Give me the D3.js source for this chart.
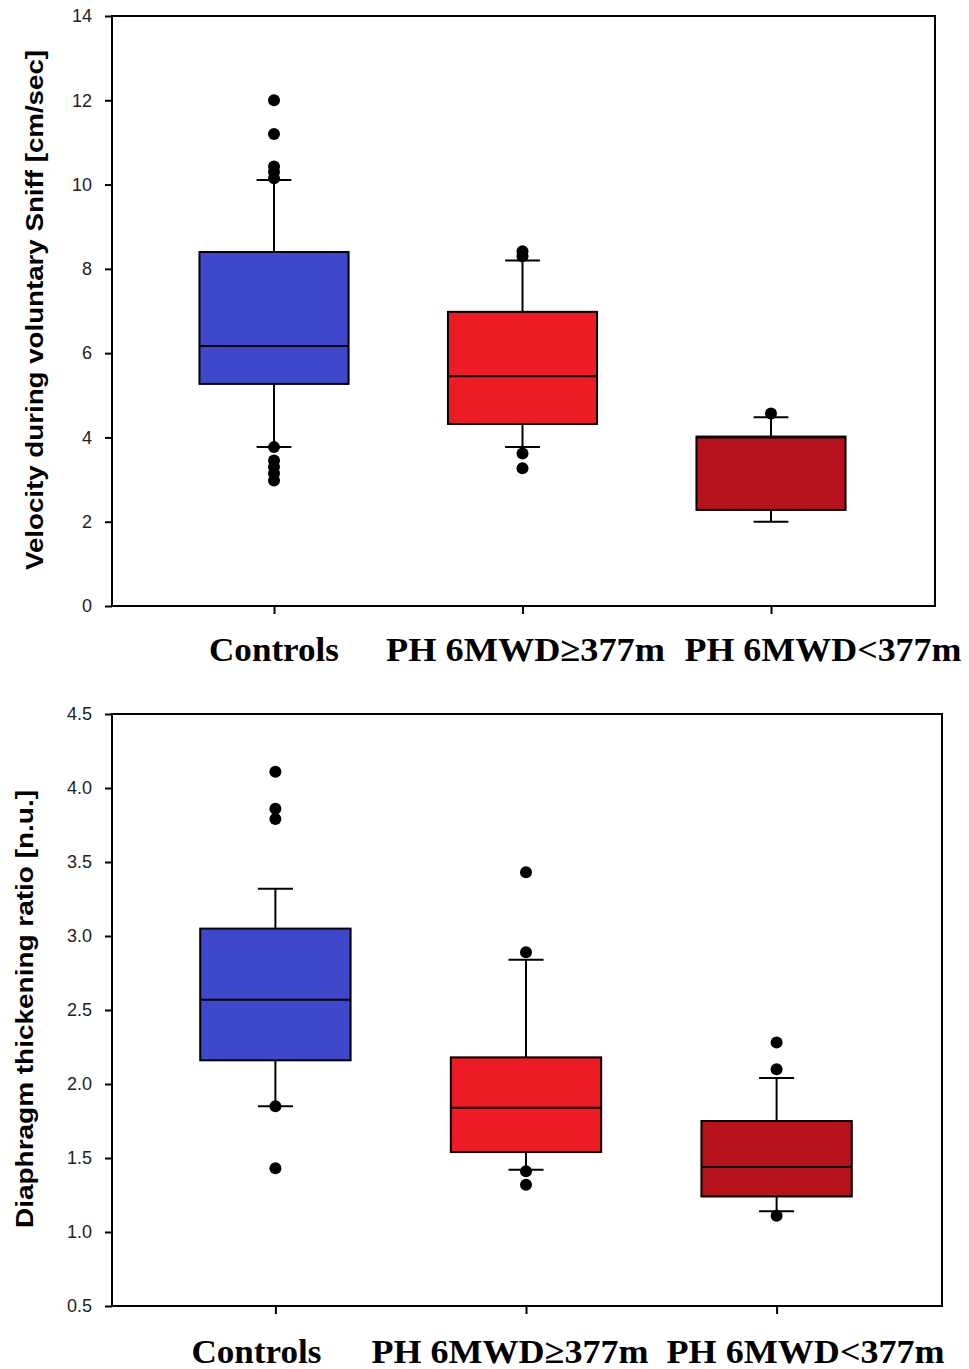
<!DOCTYPE html>
<html>
<head>
<meta charset="utf-8">
<script src="https://cdn.jsdelivr.net/npm/d3@7"></script>
<style>
  body { margin: 0; background: #fff; }
  .tick text { font-family: "Liberation Sans", Arial, sans-serif; font-size: 18px; fill: #222; }
  .cat { font-family: "Liberation Serif", "Times New Roman", serif; font-weight: bold; font-size: 34px; }
  .ytitle { font-family: "Liberation Sans", Arial, sans-serif; font-weight: bold; font-size: 24px; }
</style>
</head>
<body>
<div id="chart"></div>
<script>
// groups on the x axis
var groups = ["Controls", "PH 6MWD\u2265377m", "PH 6MWD<377m"];
var groupColors = ["#3f48cc", "#ed1c24", "#b5121b"];

// sniff velocity (top panel)
var sniffLow    = [3.77, 3.77, 2.00];
var sniffQ1     = [5.27, 4.32, 2.28];
var sniffMedian = [6.17, 5.45, 4.00];
var sniffQ3     = [8.40, 6.98, 4.02];
var sniffHigh   = [10.11, 8.20, 4.48];
var sniffOutliers = [
  [12.0, 11.2, 10.43, 10.3, 10.15, 3.77, 3.45, 3.3, 3.15, 2.98],
  [8.42, 8.3, 3.62, 3.27],
  [4.57]
];
var sniffTicks = [0, 2, 4, 6, 8, 10, 12, 14];

// diaphragm thickening ratio (bottom panel)
var dtrLow    = [1.85, 1.42, 1.14];
var dtrQ1     = [2.16, 1.54, 1.24];
var dtrMedian = [2.57, 1.84, 1.44];
var dtrQ3     = [3.05, 2.18, 1.75];
var dtrHigh   = [3.32, 2.84, 2.04];
var dtrOutliers = [
  [4.11, 3.86, 3.79, 1.85, 1.43],
  [3.43, 2.89, 1.41, 1.32],
  [2.28, 2.10, 1.11]
];
var dtrTicks = [0.5, 1.0, 1.5, 2.0, 2.5, 3.0, 3.5, 4.0, 4.5];

var svg = d3.select("#chart").append("svg")
    .attr("width", 969)
    .attr("height", 1369);

function panel(opt) {
  var x = d3.scaleLinear().domain([0.348, 3.66]).range([opt.left, opt.right]);
  var y = d3.scaleLinear().domain(opt.domain).range([opt.bottom, opt.top]);
  var g = svg.append("g");
  var halfBox = (x(0.3) - x(0));
  var halfCap = (x(0.07) - x(0));

  var rows = groups.map(function(name, i) {
    return {i: i + 1, name: name, color: groupColors[i],
      lo: opt.low[i], q1: opt.q1[i], med: opt.median[i], q3: opt.q3[i], hi: opt.high[i],
      out: opt.outliers[i]};
  });

  var box = g.selectAll(".box").data(rows).enter().append("g");

  // whiskers
  box.append("line")
      .attr("x1", function(d) { return x(d.i); })
      .attr("x2", function(d) { return x(d.i); })
      .attr("y1", function(d) { return y(d.q3); })
      .attr("y2", function(d) { return y(d.hi); })
      .attr("stroke", "#000").attr("stroke-width", 2);
  box.append("line")
      .attr("x1", function(d) { return x(d.i); })
      .attr("x2", function(d) { return x(d.i); })
      .attr("y1", function(d) { return y(d.q1); })
      .attr("y2", function(d) { return y(d.lo); })
      .attr("stroke", "#000").attr("stroke-width", 2);
  ["hi", "lo"].forEach(function(k) {
    box.append("line")
        .attr("x1", function(d) { return x(d.i) - halfCap; })
        .attr("x2", function(d) { return x(d.i) + halfCap; })
        .attr("y1", function(d) { return y(d[k]); })
        .attr("y2", function(d) { return y(d[k]); })
        .attr("stroke", "#000").attr("stroke-width", 2);
  });

  // boxes
  box.append("rect")
      .attr("x", function(d) { return x(d.i) - halfBox; })
      .attr("width", 2 * halfBox)
      .attr("y", function(d) { return y(d.q3); })
      .attr("height", function(d) { return y(d.q1) - y(d.q3); })
      .attr("fill", function(d) { return d.color; })
      .attr("stroke", "#000").attr("stroke-width", 2);
  box.append("line")
      .attr("x1", function(d) { return x(d.i) - halfBox; })
      .attr("x2", function(d) { return x(d.i) + halfBox; })
      .attr("y1", function(d) { return y(d.med); })
      .attr("y2", function(d) { return y(d.med); })
      .attr("stroke", "#000").attr("stroke-width", 2);

  // outliers
  box.selectAll("circle")
      .data(function(d) { return d.out.map(function(v) { return {i: d.i, v: v}; }); })
      .enter().append("circle")
      .attr("cx", function(d) { return x(d.i); })
      .attr("cy", function(d) { return y(d.v); })
      .attr("r", 6)
      .attr("fill", "#000");

  // frame
  g.append("rect")
      .attr("x", opt.left).attr("y", opt.top)
      .attr("width", opt.right - opt.left).attr("height", opt.bottom - opt.top)
      .attr("fill", "none").attr("stroke", "#000").attr("stroke-width", 2);

  // Y Axis
  var ya = g.append("g")
      .attr("transform", "translate(" + opt.left + ",0)")
      .call(d3.axisLeft(y).tickValues(opt.ticks).tickFormat(d3.format(opt.fmt))
        .tickSize(7).tickPadding(13));
  ya.select(".domain").remove();
  ya.selectAll(".tick line").attr("stroke-width", 2);

  // X Axis
  var xa = g.append("g")
      .attr("transform", "translate(0," + opt.bottom + ")")
      .call(d3.axisBottom(x).tickValues([1, 2, 3]).tickFormat("").tickSize(8));
  xa.select(".domain").remove();
  xa.selectAll(".tick line").attr("stroke-width", 2);

  // category labels
  g.selectAll(".cat").data(rows).enter().append("text")
      .attr("class", "cat")
      .attr("x", function(d, i) { return x(d.i) + opt.labelShift[i]; })
      .attr("y", opt.labelY)
      .attr("text-anchor", "middle")
      .attr("textLength", function(d, i) { return opt.labelLen[i]; })
      .attr("lengthAdjust", "spacingAndGlyphs")
      .text(function(d) { return d.name; });

  // y title
  g.append("text")
      .attr("class", "ytitle")
      .attr("transform", "translate(" + opt.titleX + "," + ((opt.top + opt.bottom) / 2 + opt.titleShift) + ") rotate(-90)")
      .attr("text-anchor", "middle")
      .attr("textLength", opt.titleLen)
      .attr("lengthAdjust", "spacingAndGlyphs")
      .text(opt.title);
}

panel({
  left: 112, right: 935, top: 16, bottom: 606,
  domain: [0, 14], ticks: sniffTicks, fmt: "d",
  low: sniffLow, q1: sniffQ1, median: sniffMedian, q3: sniffQ3, high: sniffHigh, outliers: sniffOutliers,
  labelY: 661, labelShift: [0, 3, 52], labelLen: [130, 279, 277],
  title: "Velocity during voluntary Sniff [cm/sec]", titleX: 43, titleShift: -1, titleLen: 520
});

panel({
  left: 112, right: 942, top: 714, bottom: 1306,
  domain: [0.5, 4.5], ticks: dtrTicks, fmt: ".1f",
  low: dtrLow, q1: dtrQ1, median: dtrMedian, q3: dtrQ3, high: dtrHigh, outliers: dtrOutliers,
  labelY: 1363, labelShift: [-19, -16, 29], labelLen: [130, 277, 278],
  title: "Diaphragm thickening ratio [n.u.]", titleX: 33, titleShift: -1, titleLen: 438
});
</script>
</body>
</html>
